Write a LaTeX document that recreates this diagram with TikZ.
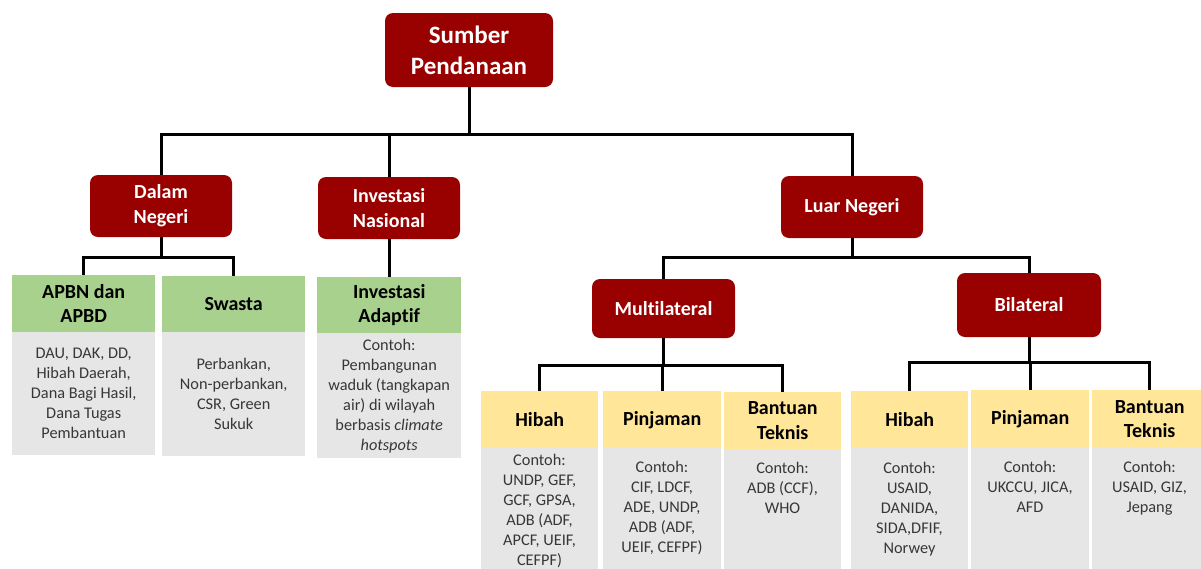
\documentclass[tikz,border=0pt]{standalone}
\usepackage{fontspec}
\setmainfont{Carlito}[Ligatures=NoCommon]
\definecolor{fundred}{RGB}{153,0,0}
\definecolor{hdrgreen}{RGB}{169,209,142}
\definecolor{hdryellow}{RGB}{255,230,153}
\definecolor{bodygray}{RGB}{231,230,230}
\definecolor{bodytext}{RGB}{55,55,55}

\begin{document}
\begin{tikzpicture}[x=1pt,y=-1pt,
  redbox/.style={fill=fundred, text=white, rounded corners=8pt, align=center,
    inner sep=0pt, font=\fontsize{20}{25}\selectfont\bfseries},
  hdr/.style={anchor=north west, inner sep=0pt, align=center,
    font=\fontsize{20}{24.5}\selectfont\bfseries, text=black},
  greenhdr/.style={hdr, fill=hdrgreen},
  yellowhdr/.style={hdr, fill=hdryellow},
  bodybox/.style={anchor=north west, fill=bodygray, inner sep=0pt},
  bodytxt/.style={align=center, inner sep=0pt, text=bodytext,
    font=\fontsize{16.3}{20}\selectfont},
  link/.style={line width=3pt, draw=black, line join=miter}
]
\useasboundingbox (0,0) rectangle (1201,568);

% --- root and first level ---
\node[redbox, minimum width=168pt, minimum height=74pt,
  font=\fontsize{25}{31}\selectfont\bfseries] (src) at (469,50) {Sumber\\Pendanaan};
\node[redbox, minimum width=142pt, minimum height=62pt] (dn) at (161,206) {Dalam\\Negeri};
\node[redbox, minimum width=142pt, minimum height=62pt] (inv) at (389,208) {Investasi\\Nasional};
\node[redbox, minimum width=142pt, minimum height=62pt] (ln) at (852,207) {Luar Negeri};
\node[redbox, minimum width=143pt, minimum height=59pt] (multi) at (663.5,308.5) {Multilateral};
\node[redbox, minimum width=144pt, minimum height=64pt] (bi) at (1029,305) {Bilateral};

% --- domestic sources ---
\node[greenhdr, minimum width=143pt, minimum height=57pt] (apbn) at (12,275) {APBN dan\\APBD};
\node[bodybox, minimum width=143pt, minimum height=123pt] (apbnb) at (12,332) {};
\node[bodytxt] (apbnt) at (apbnb.center) {DAU, DAK, DD,\\Hibah Daerah,\\Dana Bagi Hasil,\\Dana Tugas\\Pembantuan};

\node[greenhdr, minimum width=143pt, minimum height=56pt] (swasta) at (162,276) {Swasta};
\node[bodybox, minimum width=143pt, minimum height=124pt] (swastab) at (162,332) {};
\node[bodytxt] (swastat) at (swastab.center) {Perbankan,\\Non-perbankan,\\CSR, Green\\Sukuk};

\node[greenhdr, minimum width=144pt, minimum height=56pt] (invad) at (317,277) {Investasi\\Adaptif};
\node[bodybox, minimum width=144pt, minimum height=125pt] (invadb) at (317,333) {};
\node[bodytxt] (invadt) at (invadb.center) {Contoh:\\Pembangunan\\waduk (tangkapan\\air) di wilayah\\berbasis \textit{climate}\\\textit{hotspots}};

% --- multilateral sources ---
\node[yellowhdr, minimum width=117pt, minimum height=57pt] (mh) at (481,391) {Hibah};
\node[bodybox, minimum width=117pt, minimum height=125pt] (mhb) at (481,448) {};
\node[bodytxt, anchor=north] (mht) at (539.5,454) {Contoh:\\UNDP, GEF,\\GCF, GPSA,\\ADB (ADF,\\APCF, UEIF,\\CEFPF)};

\node[yellowhdr, minimum width=118pt, minimum height=57pt] (mp) at (603,391) {Pinjaman};
\node[bodybox, minimum width=118pt, minimum height=125pt] (mpb) at (603,448) {};
\node[bodytxt, anchor=north] (mpt) at (662,461) {Contoh:\\CIF, LDCF,\\ADE, UNDP,\\ADB (ADF,\\UEIF, CEFPF)};

\node[yellowhdr, minimum width=117pt, minimum height=57pt] (mt) at (724,392) {Bantuan\\Teknis};
\node[bodybox, minimum width=117pt, minimum height=125pt] (mtb) at (724,449) {};
\node[bodytxt, anchor=north] (mtt) at (782.5,462) {Contoh:\\ADB (CCF),\\WHO};

% --- bilateral sources ---
\node[yellowhdr, minimum width=117pt, minimum height=57pt] (bh) at (851,391) {Hibah};
\node[bodybox, minimum width=117pt, minimum height=125pt] (bhb) at (851,448) {};
\node[bodytxt, anchor=north] (bht) at (909.5,462) {Contoh:\\USAID,\\DANIDA,\\SIDA,DFIF,\\Norwey};

\node[yellowhdr, minimum width=118pt, minimum height=58pt] (bp) at (971,390) {Pinjaman};
\node[bodybox, minimum width=118pt, minimum height=125pt] (bpb) at (971,448) {};
\node[bodytxt, anchor=north] (bpt) at (1030,461) {Contoh:\\UKCCU, JICA,\\AFD};

\node[yellowhdr, minimum width=115pt, minimum height=58pt] (bt) at (1092,390) {Bantuan\\Teknis};
\node[bodybox, minimum width=115pt, minimum height=125pt] (btb) at (1092,448) {};
\node[bodytxt, anchor=north] (btt) at (1149.5,461) {Contoh:\\USAID, GIZ,\\Jepang};

% --- connectors ---
\coordinate (barTop) at (0,134);
\coordinate (barDN) at (0,257);
\coordinate (barLN) at (0,257);
\coordinate (barML) at (0,365);
\coordinate (barBL) at (0,362);

\draw[link] (src.south) -- (src.south |- barTop);
\draw[link] (src.south |- barTop) -| (dn.north);
\draw[link] (src.south |- barTop) -| (inv.north);
\draw[link] (src.south |- barTop) -| (ln.north);

\draw[link] (dn.south) -- (dn.south |- barDN);
\draw[link] (dn.south |- barDN) -| (apbn.north);
\draw[link] (dn.south |- barDN) -| (swasta.north);

\draw[link] (inv.south) -- (inv.south |- invad.north);

\draw[link] (ln.south) -- (ln.south |- barLN);
\draw[link] (ln.south |- barLN) -| (multi.north);
\draw[link] (ln.south |- barLN) -| (bi.north);

\draw[link] (multi.south) -- (multi.south |- barML);
\draw[link] (multi.south |- barML) -| (mh.north);
\draw[link] (multi.south |- barML) -| (mp.north);
\draw[link] (multi.south |- barML) -| (mt.north);

\draw[link] (bi.south) -- (bi.south |- barBL);
\draw[link] (bi.south |- barBL) -| (bh.north);
\draw[link] (bi.south |- barBL) -| (bp.north);
\draw[link] (bi.south |- barBL) -| (bt.north);
\end{tikzpicture}
\end{document}
